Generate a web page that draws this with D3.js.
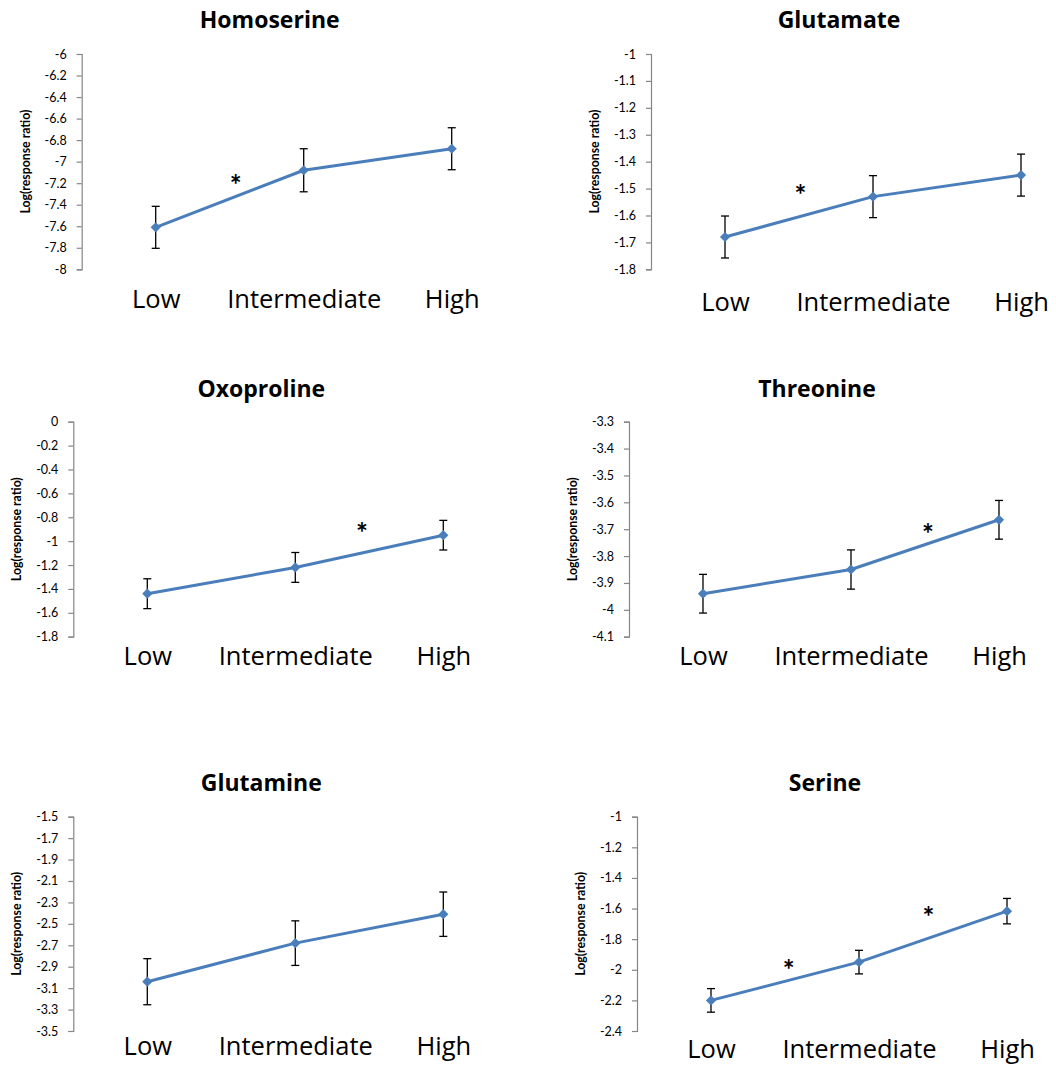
<!DOCTYPE html>
<html>
<head>
<meta charset="utf-8">
<script src="https://cdn.jsdelivr.net/npm/d3@7"></script>
<style>
  html, body { margin: 0; padding: 0; background: #fff; }
  svg { display: block; }
</style>
</head>
<body>
<svg id="chart" width="1056" height="1065"></svg>
<script>
// Dose levels shared by every panel
const categories = ["Low", "Intermediate", "High"];

// Panel titles (metabolites)
const titles = ["Homoserine", "Glutamate", "Oxoproline", "Threonine", "Glutamine", "Serine"];

// Mean log(response ratio) per dose level
const homoserineMean = [-7.61, -7.08, -6.88];
const glutamateMean  = [-1.68, -1.53, -1.45];
const oxoprolineMean = [-1.44, -1.22, -0.95];
const threonineMean  = [-3.94, -3.85, -3.665];
const glutamineMean  = [-3.04, -2.68, -2.41];
const serineMean     = [-2.20, -1.95, -1.617];

// Error bar half-widths
const homoserineErr = [0.195, 0.2, 0.195];
const glutamateErr  = [0.078, 0.078, 0.078];
const oxoprolineErr = [0.125, 0.125, 0.124];
const threonineErr  = [0.072, 0.073, 0.072];
const glutamineErr  = [0.215, 0.208, 0.207];
const serineErr     = [0.077, 0.077, 0.083];

// Y-axis tick labels
const homoserineTicks = ["-6", "-6.2", "-6.4", "-6.6", "-6.8", "-7", "-7.2", "-7.4", "-7.6", "-7.8", "-8"];
const glutamateTicks  = ["-1", "-1.1", "-1.2", "-1.3", "-1.4", "-1.5", "-1.6", "-1.7", "-1.8"];
const oxoprolineTicks = ["0", "-0.2", "-0.4", "-0.6", "-0.8", "-1", "-1.2", "-1.4", "-1.6", "-1.8"];
const threonineTicks  = ["-3.3", "-3.4", "-3.5", "-3.6", "-3.7", "-3.8", "-3.9", "-4", "-4.1"];
const glutamineTicks  = ["-1.5", "-1.7", "-1.9", "-2.1", "-2.3", "-2.5", "-2.7", "-2.9", "-3.1", "-3.3", "-3.5"];
const serineTicks     = ["-1", "-1.2", "-1.4", "-1.6", "-1.8", "-2", "-2.2", "-2.4"];

// Significance asterisks: position between dose levels (index units) and value
const homoserineStars = [{at: 0.54, value: -7.17}];
const glutamateStars  = [{at: 0.51, value: -1.505}];
const oxoprolineStars = [{at: 1.45, value: -0.89}];
const threonineStars  = [{at: 1.52, value: -3.70}];
const glutamineStars  = [];
const serineStars     = [{at: 0.525, value: -1.97}, {at: 1.47, value: -1.62}];

const series = [
  {mean: homoserineMean, err: homoserineErr, ticks: homoserineTicks, stars: homoserineStars},
  {mean: glutamateMean,  err: glutamateErr,  ticks: glutamateTicks,  stars: glutamateStars},
  {mean: oxoprolineMean, err: oxoprolineErr, ticks: oxoprolineTicks, stars: oxoprolineStars},
  {mean: threonineMean,  err: threonineErr,  ticks: threonineTicks,  stars: threonineStars},
  {mean: glutamineMean,  err: glutamineErr,  ticks: glutamineTicks,  stars: glutamineStars},
  {mean: serineMean,     err: serineErr,     ticks: serineTicks,     stars: serineStars}
];

// Panel placement: y-axis x position, plot top/bottom, title baseline, category label gap
const layout = [
  {left: 81.7, top: 54,    bottom: 269.3, titleY: 28.3,  labelGap: 39},
  {left: 651,  top: 54,    bottom: 269.3, titleY: 28.3,  labelGap: 42},
  {left: 73.3, top: 421.7, bottom: 636.7, titleY: 396.7, labelGap: 28},
  {left: 629,  top: 421.7, bottom: 636.7, titleY: 396.7, labelGap: 28},
  {left: 73.3, top: 816.7, bottom: 1031,  titleY: 790.7, labelGap: 24},
  {left: 637,  top: 816.7, bottom: 1031,  titleY: 790.7, labelGap: 27}
];

const plotWidth = 444;
const lineColor = "#4a7ebb";
const axisColor = "#868686";
const font = "'Open Sans', Lato, sans-serif";
const tickFont = "Lato, 'Open Sans', sans-serif";

const svg = d3.select("#chart");
svg.append("rect").attr("width", 1056).attr("height", 1065).attr("fill", "#fff");

series.forEach((s, i) => {
  const L = layout[i];
  const g = svg.append("g").attr("transform", `translate(${L.left},0)`);

  const tickVals = s.ticks.map(Number);
  const y = d3.scaleLinear()
    .domain([d3.min(tickVals), d3.max(tickVals)])
    .range([L.bottom, L.top]);
  const x = d3.scalePoint().domain(categories).range([0, plotWidth]).padding(0.5);
  const xi = d3.scaleLinear().domain([0, categories.length - 1])
    .range([x(categories[0]), x(categories[categories.length - 1])]);

  // Title
  g.append("text")
    .attr("x", 188).attr("y", L.titleY)
    .attr("text-anchor", "middle")
    .attr("font-family", font).attr("font-weight", "bold").attr("font-size", 23)
    .attr("fill", "#000")
    .text(titles[i]);

  // Y axis
  const yAxis = d3.axisLeft(y)
    .tickValues(tickVals)
    .tickSize(5)
    .tickPadding(10)
    .tickFormat((d, k) => s.ticks[k]);
  const ag = g.append("g").call(yAxis);
  ag.select(".domain").attr("stroke", axisColor).attr("stroke-width", 1.2);
  ag.selectAll(".tick line").attr("stroke", axisColor).attr("stroke-width", 1.2);
  ag.selectAll(".tick text")
    .attr("font-family", tickFont).attr("font-size", 12.5).attr("fill", "#000");

  // Y axis title
  g.append("text")
    .attr("transform", `translate(-56.5,${(L.top + L.bottom) / 2}) rotate(-90)`)
    .attr("text-anchor", "middle")
    .attr("dominant-baseline", "central")
    .attr("font-family", tickFont).attr("font-weight", "bold").attr("font-size", 12.3)
    .attr("fill", "#000")
    .text("Log(response ratio)");

  // Category labels (no visible x-axis line)
  const xAxis = d3.axisBottom(x).tickSize(0).tickPadding(0);
  const xg = g.append("g").attr("transform", `translate(0,${L.bottom + L.labelGap})`).call(xAxis);
  xg.select(".domain").remove();
  xg.selectAll(".tick text")
    .attr("dy", 0).attr("y", 0)
    .attr("font-family", font).attr("font-size", 25.5).attr("fill", "#000");

  const pts = s.mean.map((m, k) => ({c: categories[k], m, e: s.err[k]}));

  // Error bars
  const eb = g.append("g").attr("stroke", "#000").attr("stroke-width", 1.3);
  pts.forEach(p => {
    const cx = x(p.c);
    eb.append("line").attr("x1", cx).attr("x2", cx).attr("y1", y(p.m + p.e)).attr("y2", y(p.m - p.e));
    eb.append("line").attr("x1", cx - 4).attr("x2", cx + 4).attr("y1", y(p.m + p.e)).attr("y2", y(p.m + p.e));
    eb.append("line").attr("x1", cx - 4).attr("x2", cx + 4).attr("y1", y(p.m - p.e)).attr("y2", y(p.m - p.e));
  });

  // Mean line
  g.append("path")
    .datum(pts)
    .attr("fill", "none")
    .attr("stroke", lineColor)
    .attr("stroke-width", 3)
    .attr("stroke-linejoin", "round")
    .attr("d", d3.line().x(p => x(p.c)).y(p => y(p.m)));

  // Diamond markers
  g.selectAll(".marker").data(pts).join("path")
    .attr("class", "marker")
    .attr("d", d3.symbol(d3.symbolSquare, 52)())
    .attr("transform", p => `translate(${x(p.c)},${y(p.m)}) rotate(45)`)
    .attr("fill", lineColor);

  // Significance asterisks
  g.selectAll(".star").data(s.stars).join("text")
    .attr("class", "star")
    .attr("x", d => xi(d.at))
    .attr("y", d => y(d.value) + 15)
    .attr("text-anchor", "middle")
    .attr("font-family", tickFont).attr("font-weight", "bold").attr("font-size", 28)
    .attr("fill", "#000")
    .text("*");
});
</script>
</body>
</html>
